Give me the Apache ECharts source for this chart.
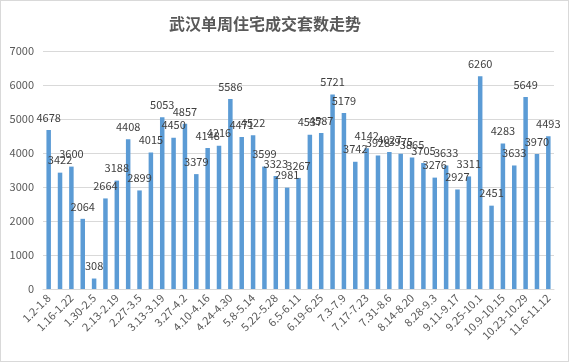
<!DOCTYPE html>
<html>
<head>
<meta charset="utf-8">
<script src="https://cdn.jsdelivr.net/npm/echarts@6/dist/echarts.min.js"></script>
<style>
html,body{margin:0;padding:0;background:#fff;}
#c{width:567px;height:360px;border:1px solid #d9d9d9;}
</style>
</head>
<body>
<div id="c"></div>
<script>
const title = '武汉单周住宅成交套数走势';
const categories = [
'1.2-1.8','1.9-1.15','1.16-1.22','1.23-1.29','1.30-2.5','2.6-2.12','2.13-2.19','2.20-2.26',
'2.27-3.5','3.6-3.12','3.13-3.19','3.20-3.26','3.27-4.2','4.3-4.9','4.10-4.16','4.17-4.23',
'4.24-4.30','5.1-5.7','5.8-5.14','5.15-5.21','5.22-5.28','5.29-6.4','6.5-6.11','6.12-6.18',
'6.19-6.25','6.26-7.2','7.3-7.9','7.10-7.16','7.17-7.23','7.24-7.30','7.31-8.6','8.7-8.13',
'8.14-8.20','8.21-8.27','8.28-9.3','9.4-9.10','9.11-9.17','9.18-9.24','9.25-10.1','10.2-10.8',
'10.9-10.15','10.16-10.22','10.23-10.29','10.30-11.5','11.6-11.12'];
const values = [
4678,3422,3600,2064,308,2664,3188,4408,
2899,4015,5053,4450,4857,3379,4148,4216,
5586,4471,4522,3599,3323,2981,3267,4537,
4587,5721,5179,3742,4142,3928,4027,3975,
3865,3705,3276,3633,2927,3311,6260,2451,
4283,3633,5649,3970,4493];
const yTicks = {min:0, max:7000, interval:1000};

const chart = echarts.init(document.getElementById('c'));
const font = '"Noto Sans CJK SC", "Noto Sans", sans-serif';
chart.setOption({
  animation:false,
  backgroundColor:'#fff',
  title:{text:title,left:259,top:10,textAlign:'center',
    textStyle:{fontSize:16,fontWeight:'bold',color:'#595959',fontFamily:font}},
  grid:{left:42,right:14,top:50,bottom:72,containLabel:false},
  xAxis:{type:'category',data:categories,
    axisLine:{lineStyle:{color:'#d9d9d9'}},
    axisTick:{show:false},
    axisLabel:{interval:1,rotate:45,fontSize:11,color:'#595959',fontFamily:font,margin:7}},
  yAxis:{type:'value',min:yTicks.min,max:yTicks.max,interval:yTicks.interval,
    axisLine:{show:false},axisTick:{show:false},
    splitLine:{lineStyle:{color:'#d9d9d9'}},
    axisLabel:{fontSize:11,color:'#595959',fontFamily:font,margin:9,formatter:v=>String(v)}},
  series:[{type:'bar',data:values,barWidth:4.5,
    itemStyle:{color:'#5b9bd5'},
    label:{show:true,position:'top',distance:7,fontSize:11,color:'#404040',fontFamily:font}}]
});
</script>
</body>
</html>
